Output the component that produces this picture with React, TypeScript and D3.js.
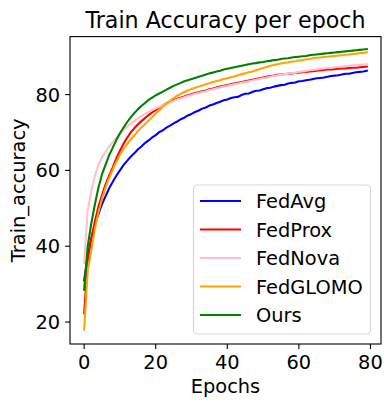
import React from "react";
import * as d3 from "d3";

const epochs: number[] = d3.range(80);

const fedAvg = [
  31.0, 37.5, 42.0, 45.6, 48.5, 51.1, 53.2, 55.3, 57.0, 58.6,
  60.0, 61.4, 62.5, 63.6, 64.5, 65.5, 66.3, 67.2, 67.9, 68.7,
  69.3, 70.1, 70.6, 71.3, 71.8, 72.4, 72.9, 73.5, 73.9, 74.5,
  74.9, 75.4, 75.8, 76.3, 76.6, 77.1, 77.4, 77.8, 78.1, 78.5,
  78.7, 79.1, 79.3, 79.4, 79.9, 80.2, 80.3, 80.7, 81.0, 81.1,
  81.4, 81.7, 81.8, 82.1, 82.3, 82.5, 82.6, 82.9, 83.1, 83.2,
  83.5, 83.6, 83.8, 83.9, 84.1, 84.3, 84.4, 84.5, 84.7, 84.9,
  85.0, 85.1, 85.3, 85.5, 85.5, 85.7, 85.9, 86.0, 86.1, 86.3,
];

const fedProx = [
  22.3, 36.0, 42.0, 46.5, 50.5, 53.5, 56.3, 58.7, 60.8, 63.2,
  65.2, 67.0, 68.6, 70.0, 71.1, 72.1, 73.0, 73.8, 74.6, 75.3,
  75.9, 76.6, 77.2, 77.7, 78.2, 78.6, 78.9, 79.2, 79.5, 79.8,
  80.1, 80.4, 80.6, 80.9, 81.1, 81.4, 81.6, 81.9, 82.1, 82.3,
  82.5, 82.7, 82.9, 83.1, 83.3, 83.5, 83.7, 83.9, 84.1, 84.3,
  84.5, 84.7, 84.9, 85.0, 85.2, 85.3, 85.4, 85.5, 85.6, 85.7,
  85.8, 85.9, 86.0, 86.1, 86.2, 86.3, 86.4, 86.5, 86.6, 86.6,
  86.7, 86.8, 86.9, 86.9, 87.0, 87.1, 87.1, 87.2, 87.3, 87.4,
];

const fedNova = [
  35.6, 49.5, 54.5, 58.5, 61.5, 63.5, 65.0, 66.3, 67.5, 68.6,
  69.5, 70.5, 71.5, 72.3, 73.0, 73.7, 74.3, 74.9, 75.4, 75.9,
  76.4, 76.8, 77.2, 77.6, 78.0, 78.3, 78.7, 79.0, 79.3, 79.6,
  79.9, 80.2, 80.4, 80.7, 80.9, 81.2, 81.4, 81.7, 81.9, 82.1,
  82.3, 82.5, 82.7, 82.9, 83.1, 83.3, 83.5, 83.7, 83.9, 84.1,
  84.3, 84.5, 84.7, 84.9, 85.1, 85.2, 85.4, 85.5, 85.7, 85.8,
  86.0, 86.1, 86.2, 86.4, 86.5, 86.6, 86.8, 86.9, 87.0, 87.1,
  87.2, 87.3, 87.4, 87.5, 87.6, 87.7, 87.7, 87.8, 87.9, 88.0,
];

const fedGlomo = [
  18.0, 33.5, 39.0, 44.5, 49.0, 52.5, 55.5, 58.0, 60.2, 62.3,
  64.2, 65.6, 66.9, 68.1, 69.2, 70.3, 71.3, 72.2, 73.1, 74.0,
  75.0, 75.9, 76.8, 77.6, 78.4, 79.1, 79.7, 80.2, 80.7, 81.1,
  81.5, 81.8, 82.1, 82.4, 82.7, 83.0, 83.3, 83.6, 83.8, 84.1,
  84.3, 84.6, 84.8, 85.1, 85.4, 85.6, 85.9, 86.1, 86.4, 86.7,
  87.0, 87.3, 87.6, 87.8, 88.0, 88.2, 88.4, 88.5, 88.7, 88.8,
  89.0, 89.1, 89.3, 89.4, 89.6, 89.7, 89.8, 89.9, 90.0, 90.1,
  90.2, 90.3, 90.4, 90.5, 90.6, 90.7, 90.8, 90.9, 91.0, 91.2,
];

const ours = [
  28.5, 40.0, 46.0, 51.0, 55.5, 59.0, 61.5, 64.0, 66.0, 68.0,
  69.8, 71.3, 72.7, 74.0, 75.1, 76.1, 77.0, 77.8, 78.6, 79.2,
  79.8, 80.3, 80.8, 81.3, 81.8, 82.3, 82.7, 83.1, 83.5, 83.8,
  84.1, 84.4, 84.7, 85.0, 85.3, 85.6, 85.8, 86.1, 86.3, 86.6,
  86.8, 87.0, 87.2, 87.4, 87.6, 87.8, 88.0, 88.2, 88.3, 88.5,
  88.6, 88.8, 88.9, 89.1, 89.2, 89.4, 89.5, 89.6, 89.8, 89.9,
  90.0, 90.1, 90.2, 90.4, 90.5, 90.6, 90.7, 90.8, 90.9, 91.0,
  91.1, 91.2, 91.3, 91.4, 91.5, 91.6, 91.7, 91.8, 91.9, 92.0,
];

const seriesNames = ["FedAvg", "FedProx", "FedNova", "FedGLOMO", "Ours"];
const seriesColors = ["blue", "red", "pink", "orange", "green"];
const seriesValues = [fedAvg, fedProx, fedNova, fedGlomo, ours];

const xTicks = [0, 20, 40, 60, 80];
const yTicks = [20, 40, 60, 80];

const W = 391;
const H = 407;
const left = 70;
const right = 381;
const top = 36.6;
const bottom = 344;
const font = "DejaVu Sans, sans-serif";
const fs = 19.4;

export default function App() {
  const x = d3.scaleLinear().domain([-3.95, 82.95]).range([left, right]);
  const y = d3.scaleLinear().domain([14.2, 95.3]).range([bottom, top]);
  const line = d3
    .line<number>()
    .x((_, i) => x(epochs[i]))
    .y((d) => y(d));

  const legX = 193.5;
  const legY = 185;
  const legW = 177;
  const legH = 149;
  const rowY = (i: number) => 201 + i * 28.5;

  return (
    <svg
      width={W}
      height={H}
      style={{ position: "absolute", left: 0, top: 0, display: "block", background: "white" }}
      fontFamily={font}
    >
      <rect x={0} y={0} width={W} height={H} fill="white" />
      <defs>
        <clipPath id="plotclip">
          <rect x={left} y={top} width={right - left} height={bottom - top} />
        </clipPath>
      </defs>
      <g clipPath="url(#plotclip)">
        {seriesValues.map((vals, k) => (
          <path
            key={seriesNames[k]}
            d={line(vals) || ""}
            fill="none"
            stroke={seriesColors[k]}
            strokeWidth={2.08}
            strokeLinejoin="round"
            strokeLinecap="square"
          />
        ))}
      </g>
      {/* spines */}
      <rect
        x={left}
        y={top}
        width={right - left}
        height={bottom - top}
        fill="none"
        stroke="black"
        strokeWidth={1.1}
      />
      {/* x ticks */}
      {xTicks.map((t) => (
        <g key={"x" + t}>
          <line x1={x(t)} x2={x(t)} y1={bottom} y2={bottom + 4.9} stroke="black" strokeWidth={1.1} />
          <text x={x(t)} y={369.2} textAnchor="middle" fontSize={fs} fill="#000">
            {t}
          </text>
        </g>
      ))}
      {/* y ticks */}
      {yTicks.map((t) => (
        <g key={"y" + t}>
          <line x1={left - 4.9} x2={left} y1={y(t)} y2={y(t)} stroke="black" strokeWidth={1.1} />
          <text x={60.2} y={y(t) + 7.05} textAnchor="end" fontSize={fs} fill="#000">
            {t}
          </text>
        </g>
      ))}
      {/* axis labels */}
      <text x={(left + right) / 2} y={393.2} textAnchor="middle" fontSize={fs} fill="#000">
        Epochs
      </text>
      <text
        transform={`translate(24.5, ${(top + bottom) / 2}) rotate(-90)`}
        textAnchor="middle"
        fontSize={fs}
        fill="#000"
      >
        Train_accuracy
      </text>
      {/* title */}
      <text x={(left + right) / 2} y={28.3} textAnchor="middle" fontSize={22.2} fill="#000">
        Train Accuracy per epoch
      </text>
      {/* legend */}
      <rect
        x={legX}
        y={legY}
        width={legW}
        height={legH}
        rx={4}
        ry={4}
        fill="white"
        fillOpacity={0.8}
        stroke="#cccccc"
        strokeOpacity={0.8}
        strokeWidth={1.1}
      />
      {seriesNames.map((n, i) => (
        <g key={"leg" + n}>
          <line x1={200} x2={241} y1={rowY(i)} y2={rowY(i)} stroke={seriesColors[i]} strokeWidth={2.08} />
          <text x={256} y={rowY(i) + 7.3} fontSize={fs} fill="#000">
            {n}
          </text>
        </g>
      ))}
    </svg>
  );
}
